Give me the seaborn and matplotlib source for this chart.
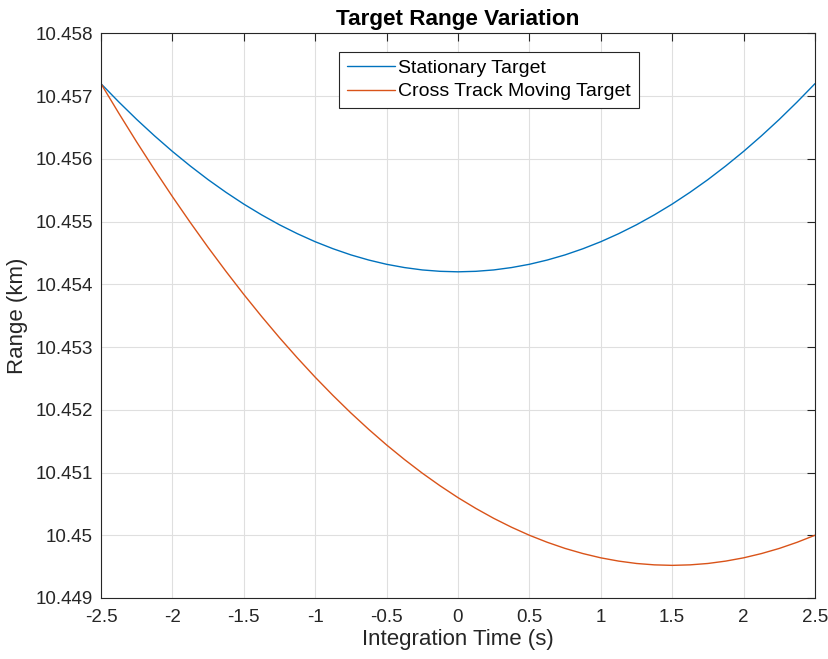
import matplotlib
matplotlib.use("Agg")
import matplotlib.pyplot as plt
import seaborn as sns
import pandas as pd

# integration time samples (s)
time_s = [-2.5, -2.375, -2.25, -2.125, -2.0, -1.875, -1.75, -1.625, -1.5, -1.375,
          -1.25, -1.125, -1.0, -0.875, -0.75, -0.625, -0.5, -0.375, -0.25, -0.125,
          0.0, 0.125, 0.25, 0.375, 0.5, 0.625, 0.75, 0.875, 1.0, 1.125,
          1.25, 1.375, 1.5, 1.625, 1.75, 1.875, 2.0, 2.125, 2.25, 2.375, 2.5]

# range (km)
stationary_km = [10.457200, 10.456908, 10.456630, 10.456368, 10.456120, 10.455888,
                 10.455670, 10.455468, 10.455280, 10.455108, 10.454950, 10.454808,
                 10.454680, 10.454568, 10.454470, 10.454388, 10.454320, 10.454268,
                 10.454230, 10.454208, 10.454200, 10.454208, 10.454230, 10.454268,
                 10.454320, 10.454388, 10.454470, 10.454568, 10.454680, 10.454808,
                 10.454950, 10.455108, 10.455280, 10.455468, 10.455670, 10.455888,
                 10.456120, 10.456368, 10.456630, 10.456908, 10.457200]
moving_km = [10.457200, 10.456728, 10.456270, 10.455828, 10.455400, 10.454988,
             10.454590, 10.454208, 10.453840, 10.453488, 10.453150, 10.452828,
             10.452520, 10.452228, 10.451950, 10.451688, 10.451440, 10.451208,
             10.450990, 10.450788, 10.450600, 10.450428, 10.450270, 10.450128,
             10.450000, 10.449888, 10.449790, 10.449708, 10.449640, 10.449588,
             10.449550, 10.449528, 10.449520, 10.449528, 10.449550, 10.449588,
             10.449640, 10.449708, 10.449790, 10.449888, 10.450000]

series_names = ["Stationary Target", "Cross Track Moving Target"]
x_ticks = [-2.5, -2, -1.5, -1, -0.5, 0, 0.5, 1, 1.5, 2, 2.5]
x_tick_labels = ["-2.5", "-2", "-1.5", "-1", "-0.5", "0", "0.5", "1", "1.5", "2", "2.5"]
y_ticks = [10.449, 10.450, 10.451, 10.452, 10.453, 10.454, 10.455, 10.456, 10.457, 10.458]
y_tick_labels = ["10.449", "10.45", "10.451", "10.452", "10.453", "10.454",
                 "10.455", "10.456", "10.457", "10.458"]

df = pd.DataFrame({
    "t": time_s * 2,
    "range": stationary_km + moving_km,
    "series": [series_names[0]] * len(time_s) + [series_names[1]] * len(time_s),
})

sns.set_style("white")
plt.rcParams["font.family"] = ["Liberation Sans", "DejaVu Sans"]

ink = "#262626"
fig = plt.figure(figsize=(8.29, 6.59), dpi=100)
ax = fig.add_axes([0.1218, 0.0926, 0.8613, 0.8566])

sns.lineplot(data=df, x="t", y="range", hue="series", hue_order=series_names,
             palette=["#0072BD", "#D95319"], linewidth=1.0, ax=ax, sort=False)

ax.set_xlim(-2.5, 2.5)
ax.set_ylim(10.449, 10.458)
ax.set_xticks(x_ticks)
ax.set_xticklabels(x_tick_labels)
ax.set_yticks(y_ticks)
ax.set_yticklabels(y_tick_labels)
ax.grid(True, color="#dfdfdf", linewidth=0.8)
ax.set_axisbelow(True)
ax.tick_params(direction="in", length=6, width=0.8, colors=ink, labelsize=13.5,
               top=True, right=True, pad=6)
ax.tick_params(axis="x", pad=8)
for s in ax.spines.values():
    s.set_color(ink)
    s.set_linewidth(0.8)
    s.set_visible(True)

ax.set_xlabel("Integration Time (s)", fontsize=16, color=ink, labelpad=2)
ax.set_ylabel("Range (km)", fontsize=16, color=ink, labelpad=5)
ax.set_title("Target Range Variation", fontsize=16.2, fontweight="bold", color="black", pad=6)

leg = ax.legend(loc="upper center", bbox_to_anchor=(0.5435, 0.968), fontsize=14,
                frameon=True, fancybox=False, framealpha=1, handlelength=2.45,
                handletextpad=0.2, borderpad=0.4, labelspacing=0.3, borderaxespad=0)
leg.get_frame().set_edgecolor(ink)
leg.get_frame().set_linewidth(0.8)
for txt in leg.get_texts():
    txt.set_color("black")

fig.savefig("out.png", dpi=100)
